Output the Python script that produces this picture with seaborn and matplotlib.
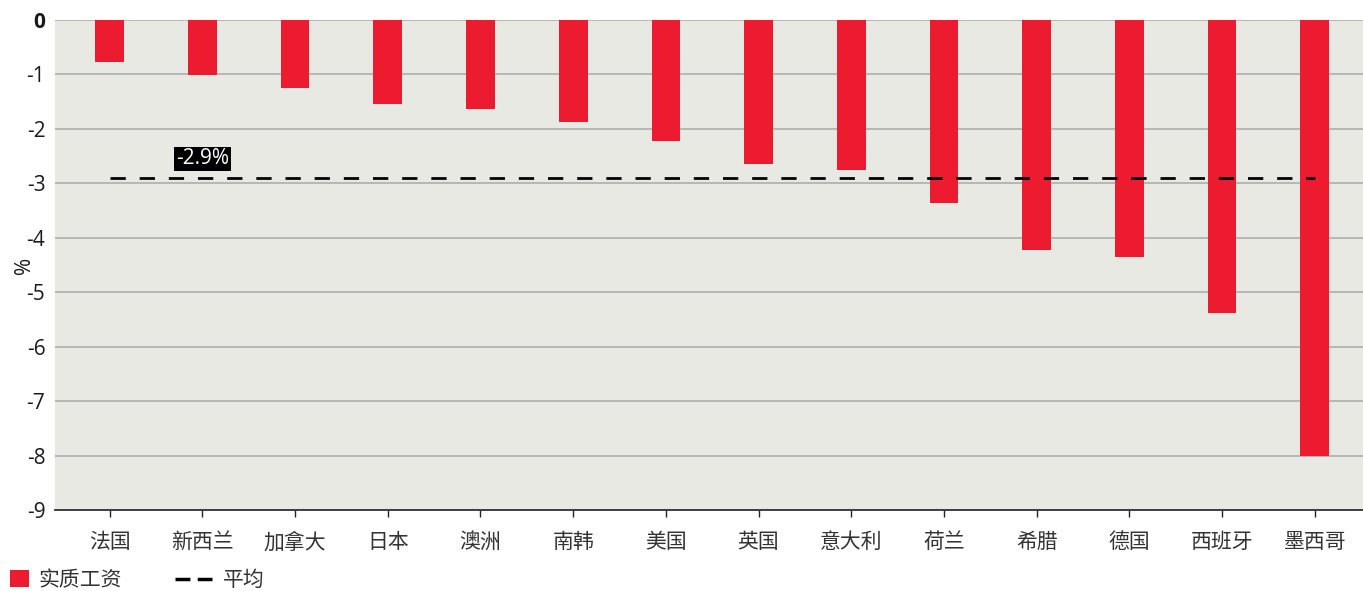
import matplotlib
matplotlib.use("Agg")
import matplotlib.pyplot as plt
import seaborn as sns
import pandas as pd
from matplotlib.patches import Patch
from matplotlib.lines import Line2D

countries = ["法国", "新西兰", "加拿大", "日本", "澳洲", "南韩", "美国", "英国",
             "意大利", "荷兰", "希腊", "德国", "西班牙", "墨西哥"]
real_wages = [-0.77, -1.01, -1.25, -1.54, -1.63, -1.87, -2.22, -2.65,
              -2.75, -3.36, -4.23, -4.35, -5.38, -8.01]
average = -2.9
avg_label = "-2.9%"
y_ticks = [0, -1, -2, -3, -4, -5, -6, -7, -8, -9]
series_name = "实质工资"
avg_name = "平均"

sns.set_theme(style="white")
plt.rcParams['font.family'] = ['Open Sans', 'Noto Sans CJK SC', 'DejaVu Sans']

RED = "#ED1B2F"
BG = "#E9E9E4"

fig = plt.figure(figsize=(13.63, 5.91), dpi=100)
ax = fig.add_axes([55/1363, 81/591, 1 - 55/1363, 490/591])
ax.set_facecolor(BG)

df = pd.DataFrame({"country": countries, "value": real_wages})
sns.barplot(data=df, x="country", y="value", color=RED, width=0.31,
            saturation=1, ax=ax, zorder=3, edgecolor="none", linewidth=0)

ax.plot([0, len(countries) - 1], [average, average], color="black",
        linestyle=(0, (5.5, 5)), linewidth=2, zorder=4)
ax.text(1, average + 0.16, avg_label, ha="center", va="bottom", color="white",
        fontsize=15, zorder=5,
        bbox=dict(boxstyle="square,pad=0.08", facecolor="black", edgecolor="none"))

ax.set_ylim(-9, 0)
ax.set_xlim(-0.59, 13.52)
ax.set_yticks(y_ticks)
ax.set_yticklabels([str(t) for t in y_ticks], fontsize=15, color="#1a1a1a")
ax.get_yticklabels()[0].set_fontweight("bold")
ax.yaxis.grid(True, color="#A8A8A8", linewidth=1.1, zorder=0)
ax.set_axisbelow(True)
ax.tick_params(axis="y", length=0, pad=7)
ax.tick_params(axis="x", length=5, width=1, color="#222222", direction="out",
               labelsize=15, labelcolor="#333333", pad=11, bottom=True)
ax.set_xlabel("")
ax.set_ylabel("%", fontsize=15, color="#1a1a1a", labelpad=6)
ax.yaxis.set_label_coords(-20/1308, 0.5)
for s in ["top", "right", "left"]:
    ax.spines[s].set_visible(False)
ax.spines["bottom"].set_color("#333333")
ax.spines["bottom"].set_linewidth(1.3)

leg1 = fig.legend(handles=[Patch(facecolor=RED, edgecolor="none", label=series_name)],
                  loc="lower left", bbox_to_anchor=(10/1363, 0.0),
                  frameon=False, fontsize=15, handlelength=0.9, handleheight=0.9,
                  handletextpad=0.45, labelcolor="#333333",
                  borderaxespad=0, borderpad=0)
leg2 = fig.legend(handles=[Line2D([0], [0], color="black", linestyle=(0, (4.3, 2.1)),
                                  linewidth=2.5, label=avg_name)],
                  loc="lower left", bbox_to_anchor=(175/1363, 0.0),
                  frameon=False, fontsize=15, handlelength=1.78,
                  handletextpad=0.5, labelcolor="#333333",
                  borderaxespad=0, borderpad=0)

fig.savefig("out.png", dpi=100, facecolor="white")
